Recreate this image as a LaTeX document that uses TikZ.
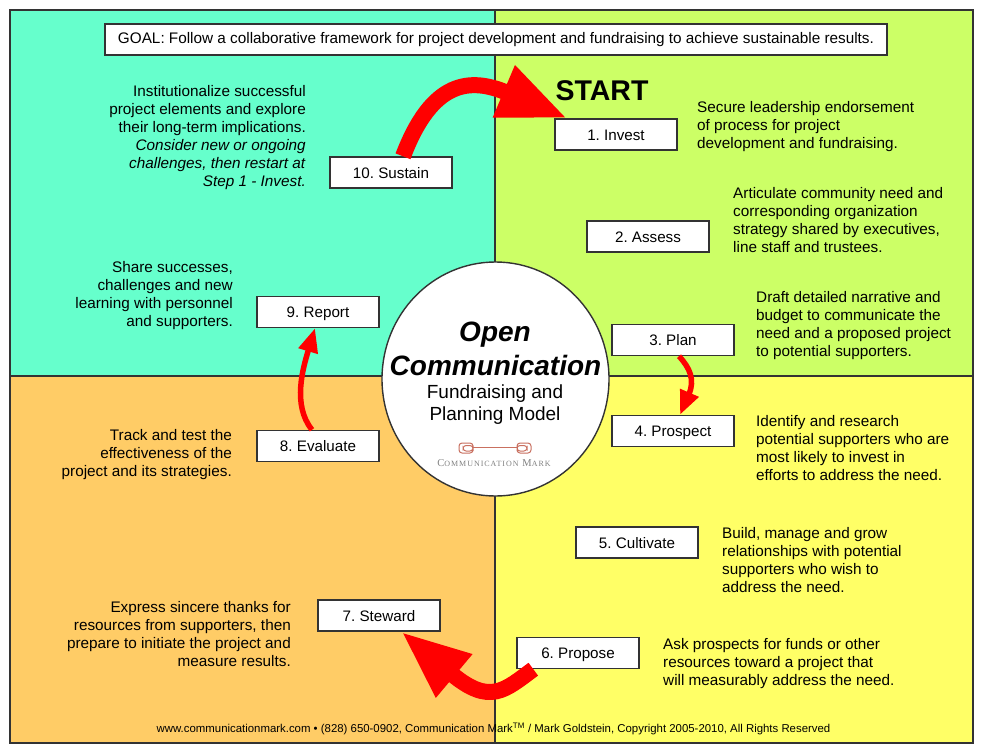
\documentclass[tikz,border=0pt]{standalone}
\usepackage{fontspec}
\setmainfont{Liberation Sans}
\newfontfamily\logofont[LetterSpace=12]{Liberation Serif}
\usetikzlibrary{arrows.meta}
\usetikzlibrary{shapes.geometric}
\definecolor{sustainteal}{HTML}{66FFCC}
\definecolor{startgreen}{HTML}{CCFF66}
\definecolor{planorange}{HTML}{FFCC66}
\definecolor{askyellow}{HTML}{FFFF66}
\definecolor{logored}{HTML}{C97060}
\definecolor{boxline}{HTML}{333333}
\tikzset{
  quadrant/.style={draw=boxline, line width=1.2pt},
  stepbox/.style={draw=boxline, fill=white, line width=1.4pt, minimum width=122pt, minimum height=31pt, inner sep=0pt, text height=11pt, text depth=0pt, font=\fontsize{15.2}{18}\selectfont},
  noteleft/.style={anchor=east, align=right, inner sep=0pt, font=\fontsize{15.3}{18}\selectfont},
  noteright/.style={anchor=west, align=left, inner sep=0pt, font=\fontsize{15.3}{18}\selectfont},
  bigflow/.style={draw=red, line width=16pt, -{Triangle[length=69pt,width=52pt]}},
  thinflow/.style={draw=red, line width=5.5pt, -{Triangle[length=24pt,width=19pt]}},
}
\frenchspacing
\begin{document}
\begin{tikzpicture}[x=1pt,y=-1pt]
\useasboundingbox (0,0) rectangle (981,752);
\filldraw[quadrant, fill=sustainteal] (10,10) rectangle (495,376);
\filldraw[quadrant, fill=startgreen] (495,10) rectangle (973,376);
\filldraw[quadrant, fill=planorange] (10,376) rectangle (495,743);
\filldraw[quadrant, fill=askyellow] (495,376) rectangle (973,743);
\node[draw=boxline, fill=white, line width=1.4pt, minimum width=782pt, minimum height=31pt, inner sep=0pt, font=\fontsize{15.3}{18}\selectfont] (goal) at (496,39.5) {GOAL: Follow a collaborative framework for project development and fundraising to achieve sustainable results.};
\node[ellipse, draw=boxline, fill=white, line width=1.4pt, minimum width=227pt, minimum height=234pt, inner sep=0pt] (hub) at (495.5,379) {};
\node[font=\fontsize{28}{30}\selectfont\bfseries\itshape] (open) at (495,335) {Open};
\node[font=\fontsize{28}{30}\selectfont\bfseries\itshape] (communication) at (495.5,365) {Communication};
\node[font=\fontsize{19}{21}\selectfont, align=center] (model) at (495,405) {Fundraising and\\[1pt]Planning Model};
\draw[logored, line width=1pt, rounded corners=3pt] (459,443) rectangle (473,453) (463,445.5) rectangle (473,451);
\draw[logored, line width=1pt, rounded corners=3pt] (517,443) rectangle (531,453) (517,445.5) rectangle (527,451);
\draw[logored, line width=1pt] (473,447.5) -- (517,447.5);
\node[text=gray, font=\fontsize{10.5}{12}\selectfont\logofont] (logo) at (494,463.5) {C{\fontsize{8}{12}\selectfont OMMUNICATION} M{\fontsize{8}{12}\selectfont ARK}};
\node[font=\fontsize{28.5}{30}\selectfont\bfseries] (start) at (602,91) {START};
\node[stepbox] (invest) at (616,134.5) {1. Invest};
\node[stepbox] (assess) at (648,236.5) {2. Assess};
\node[stepbox] (plan) at (673,340) {3. Plan};
\node[stepbox] (prospect) at (673,431) {4. Prospect};
\node[stepbox] (cultivate) at (637,542.5) {5. Cultivate};
\node[stepbox] (propose) at (578,653) {6. Propose};
\node[stepbox] (steward) at (379,615.5) {7. Steward};
\node[stepbox] (evaluate) at (318,446) {8. Evaluate};
\node[stepbox] (report) at (318,312) {9. Report};
\node[stepbox] (sustain) at (391,172.5) {10. Sustain};
\node[noteright] (investnote) at (697,127) {Secure leadership endorsement\\of process for project\\development and fundraising.};
\node[noteright] (assessnote) at (733,220) {Articulate community need and\\corresponding organization\\strategy shared by executives,\\line staff and trustees.};
\node[noteright] (plannote) at (756,326) {Draft detailed narrative and\\budget to communicate the\\need and a proposed project\\to potential supporters.};
\node[noteright] (prospectnote) at (756,448) {Identify and research\\potential supporters who are\\most likely to invest in\\efforts to address the need.};
\node[noteright] (cultivatenote) at (722,560) {Build, manage and grow\\relationships with potential\\supporters who wish to\\address the need.};
\node[noteright] (proposenote) at (663,663.5) {Ask prospects for funds or other\\resources toward a project that\\will measurably address the need.};
\node[noteleft] (stewardnote) at (291,634.5) {Express sincere thanks for\\resources from supporters, then\\prepare to initiate the project and\\measure results.};
\node[noteleft] (evaluatenote) at (232,455) {Track and test the\\effectiveness of the\\project and its strategies.};
\node[noteleft] (reportnote) at (233,296) {Share successes,\\challenges and new\\learning with personnel\\and supporters.};
\node[noteleft] (sustainnote) at (306,137.5) {Institutionalize successful\\project elements and explore\\their long-term implications.\\\textit{Consider new or ongoing}\\\textit{challenges, then restart at}\\\textit{Step 1 - Invest.}};
\node[font=\fontsize{11.4}{13}\selectfont] (footer) at (493.5,729) {www.communicationmark.com • (828) 650-0902, Communication Mark\textsuperscript{TM} / Mark Goldstein, Copyright 2005-2010, All Rights Reserved};
\draw[bigflow] ([xshift=12pt]sustain.north) .. controls (432,80) and (470,77) .. ([xshift=13pt]invest.north west);
\draw[bigflow] ([xshift=17pt]propose.south west) .. controls (505,690) and (490,706) .. ([xshift=84pt]steward.south west);
\draw[thinflow] ([xshift=6pt]plan.south) .. controls (690,368) and (695,380) .. ([xshift=7pt]prospect.north);
\draw[thinflow] ([xshift=-6pt]evaluate.north) .. controls (292,405) and (303,368) .. ([xshift=-3pt]report.south);
\end{tikzpicture}
\end{document}
